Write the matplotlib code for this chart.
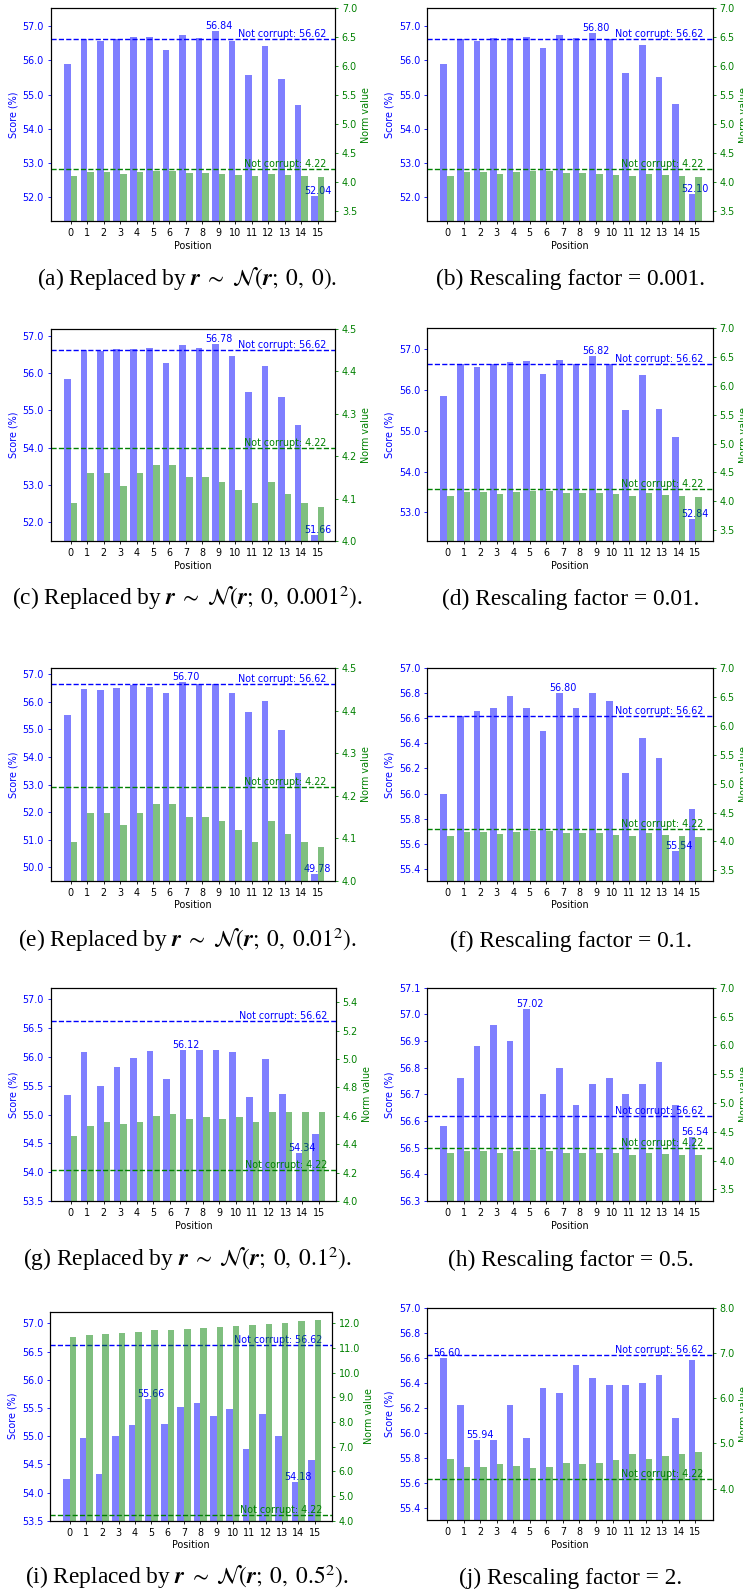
import matplotlib.pyplot as plt
from matplotlib.ticker import FormatStrFormatter, MultipleLocator

plt.rcParams["font.family"] = ["DejaVu Sans"]
plt.rcParams["mathtext.fontset"] = "stix"

POSITIONS = list(range(16))
NOT_CORRUPT_SCORE = 56.62
NOT_CORRUPT_NORM = 4.22

SCORE_A = [55.88, 56.62, 56.56, 56.62, 56.68, 56.68, 56.30, 56.74, 56.64, 56.84, 56.56, 55.56, 56.42, 55.44, 54.68, 52.04]
SCORE_B = [55.88, 56.62, 56.56, 56.64, 56.64, 56.68, 56.36, 56.74, 56.64, 56.80, 56.62, 55.62, 56.44, 55.50, 54.72, 52.10]
SCORE_C = [55.84, 56.62, 56.60, 56.64, 56.64, 56.68, 56.28, 56.76, 56.68, 56.78, 56.46, 55.48, 56.20, 55.36, 54.62, 51.66]
SCORE_D = [55.86, 56.62, 56.56, 56.62, 56.68, 56.70, 56.38, 56.74, 56.64, 56.82, 56.62, 55.50, 56.36, 55.52, 54.84, 52.84]
SCORE_E = [55.52, 56.46, 56.42, 56.50, 56.60, 56.54, 56.32, 56.70, 56.64, 56.62, 56.32, 55.62, 56.02, 54.98, 53.42, 49.78]
SCORE_F = [56.00, 56.62, 56.66, 56.68, 56.78, 56.68, 56.50, 56.80, 56.68, 56.80, 56.74, 56.16, 56.44, 56.28, 55.54, 55.88]
SCORE_G = [55.34, 56.08, 55.50, 55.82, 55.98, 56.10, 55.62, 56.12, 56.12, 56.12, 56.08, 55.30, 55.96, 55.36, 54.34, 54.66]
SCORE_H = [56.58, 56.76, 56.88, 56.96, 56.90, 57.02, 56.70, 56.80, 56.66, 56.74, 56.76, 56.70, 56.74, 56.82, 56.66, 56.54]
SCORE_I = [54.24, 54.96, 54.32, 55.00, 55.20, 55.66, 55.22, 55.52, 55.58, 55.36, 55.48, 54.78, 55.40, 55.00, 54.18, 54.58]
SCORE_J = [56.60, 56.22, 55.94, 55.94, 56.22, 55.96, 56.36, 56.32, 56.54, 56.44, 56.38, 56.38, 56.40, 56.46, 56.12, 56.58]

NORM_CLEAN = [4.09, 4.16, 4.16, 4.13, 4.16, 4.18, 4.18, 4.15, 4.15, 4.14, 4.12, 4.09, 4.14, 4.11, 4.09, 4.08]
NORM_G = [4.46, 4.53, 4.56, 4.54, 4.56, 4.60, 4.61, 4.58, 4.59, 4.58, 4.59, 4.56, 4.63, 4.63, 4.63, 4.63]
NORM_H = [4.13, 4.17, 4.17, 4.14, 4.17, 4.18, 4.17, 4.14, 4.14, 4.14, 4.13, 4.10, 4.14, 4.11, 4.10, 4.10]
NORM_I = [11.45, 11.53, 11.58, 11.61, 11.66, 11.73, 11.73, 11.77, 11.81, 11.85, 11.89, 11.93, 11.97, 12.01, 12.09, 12.14]
NORM_J = [4.66, 4.48, 4.48, 4.55, 4.50, 4.46, 4.48, 4.57, 4.55, 4.57, 4.63, 4.77, 4.66, 4.72, 4.77, 4.81]

REPLACED = r"Replaced by $\mathbfit{{r}}\;\sim\;\mathcal{{N}}(\mathbfit{{r}};\;0,\;{})$."
CAPTIONS = {
    "a": "(a) " + REPLACED.format("0"),
    "b": "(b) Rescaling factor = 0.001.",
    "c": "(c) " + REPLACED.format("0.001^2"),
    "d": "(d) Rescaling factor = 0.01.",
    "e": "(e) " + REPLACED.format("0.01^2"),
    "f": "(f) Rescaling factor = 0.1.",
    "g": "(g) " + REPLACED.format("0.1^2"),
    "h": "(h) Rescaling factor = 0.5.",
    "i": "(i) " + REPLACED.format("0.5^2"),
    "j": "(j) Rescaling factor = 2.",
}

W, H = 743, 1589
FS = 6.9
BAR_W = 0.4

# panel, scores, norms, axes box in pixels (x0, y0, x1, y1), limits, tick steps, caption baseline y
PANELS = [
    ("a", SCORE_A, NORM_CLEAN, (50.7, 8.3, 335.0, 221.0), (51.31, 57.515), (3.32, 7.0), 1.0, 0.5, 285),
    ("b", SCORE_B, NORM_CLEAN, (427.0, 8.3, 712.7, 221.0), (51.31, 57.515), (3.32, 7.0), 1.0, 0.5, 285),
    ("c", SCORE_C, NORM_CLEAN, (50.7, 329.0, 335.0, 541.0), (51.5, 57.18), (4.0, 4.5), 1.0, 0.1, 605),
    ("d", SCORE_D, NORM_CLEAN, (427.0, 328.3, 712.7, 541.0), (52.30, 57.506), (3.31, 7.0), 1.0, 0.5, 605),
    ("e", SCORE_E, NORM_CLEAN, (50.7, 668.3, 335.0, 880.7), (49.52, 57.205), (4.0, 4.5), 1.0, 0.1, 947),
    ("f", SCORE_F, NORM_CLEAN, (427.0, 668.3, 712.7, 880.7), (55.304, 57.0), (3.32, 7.0), 0.2, 0.5, 947),
    ("g", SCORE_G, NORM_G, (50.7, 987.7, 336.0, 1201.0), (53.5, 57.20), (4.0, 5.503), 0.5, 0.2, 1266),
    ("h", SCORE_H, NORM_H, (427.0, 987.7, 712.7, 1201.0), (56.3, 57.1), (3.30, 7.0), 0.1, 0.5, 1266),
    ("i", SCORE_I, NORM_I, (50.0, 1311.7, 331.7, 1520.7), (53.5, 57.207), (4.0, 12.47), 0.5, 1.0, 1584),
    ("j", SCORE_J, NORM_J, (427.0, 1307.7, 712.7, 1520.0), (55.30, 57.0), (3.31, 8.0), 0.2, 1.0, 1584),
]


def add_panel(fig, box, scores, norms, score_lim, norm_lim, score_step, norm_step):
    x0, y0, x1, y1 = box
    ax = fig.add_axes([x0 / W, 1 - y1 / H, (x1 - x0) / W, (y1 - y0) / H])
    ax2 = ax.twinx()

    ax.bar([p - BAR_W / 2 for p in POSITIONS], scores, BAR_W, color="blue", alpha=0.5)
    ax2.bar([p + BAR_W / 2 for p in POSITIONS], norms, BAR_W, color="green", alpha=0.5)

    ax.axhline(NOT_CORRUPT_SCORE, color="blue", ls="--", lw=1.0)
    ax2.axhline(NOT_CORRUPT_NORM, color="green", ls="--", lw=1.0)
    ax.text(15.5, NOT_CORRUPT_SCORE, f"Not corrupt: {NOT_CORRUPT_SCORE:.2f}",
            color="blue", ha="right", va="bottom", fontsize=FS)
    ax2.text(15.5, NOT_CORRUPT_NORM, f"Not corrupt: {NOT_CORRUPT_NORM:.2f}",
             color="green", ha="right", va="bottom", fontsize=FS)

    # mejor y peor posicion
    for i in (scores.index(max(scores)), scores.index(min(scores))):
        ax.text(POSITIONS[i], scores[i], f"{scores[i]:.2f}", color="blue",
                ha="center", va="bottom", fontsize=FS)

    ax.set_xlim(-1.21, 16.05)
    ax.set_ylim(*score_lim)
    ax2.set_ylim(*norm_lim)
    ax.set_xticks(POSITIONS)
    ax.yaxis.set_major_locator(MultipleLocator(score_step))
    ax2.yaxis.set_major_locator(MultipleLocator(norm_step))
    ax.yaxis.set_major_formatter(FormatStrFormatter("%.1f"))
    ax2.yaxis.set_major_formatter(FormatStrFormatter("%.1f"))

    ax.tick_params(axis="x", labelsize=FS, length=2.5, width=0.6, pad=2.4)
    ax.tick_params(axis="y", colors="blue", labelsize=FS, length=2.5, width=0.6, pad=2.4)
    ax2.tick_params(axis="y", colors="green", labelsize=FS, length=2.5, width=0.6, pad=2.4)

    ax.set_xlabel("Position", fontsize=FS, labelpad=2)
    ax.set_ylabel("Score (%)", color="blue", fontsize=FS, labelpad=3)
    ax2.set_ylabel("Norm value", color="green", fontsize=FS, labelpad=3)

    for a in (ax, ax2):
        for s in a.spines.values():
            s.set_linewidth(0.8)


fig = plt.figure(figsize=(W / 100, H / 100), dpi=100)

for key, scores, norms, box, score_lim, norm_lim, s_step, n_step, base_y in PANELS:
    add_panel(fig, box, scores, norms, score_lim, norm_lim, s_step, n_step)
    cx = 187 if box[0] < 300 else 571
    fig.text(cx / W, 1 - base_y / H, CAPTIONS[key], ha="center", va="baseline",
             fontsize=16.8, family="Liberation Serif")

fig.savefig("out.png", dpi=100)
